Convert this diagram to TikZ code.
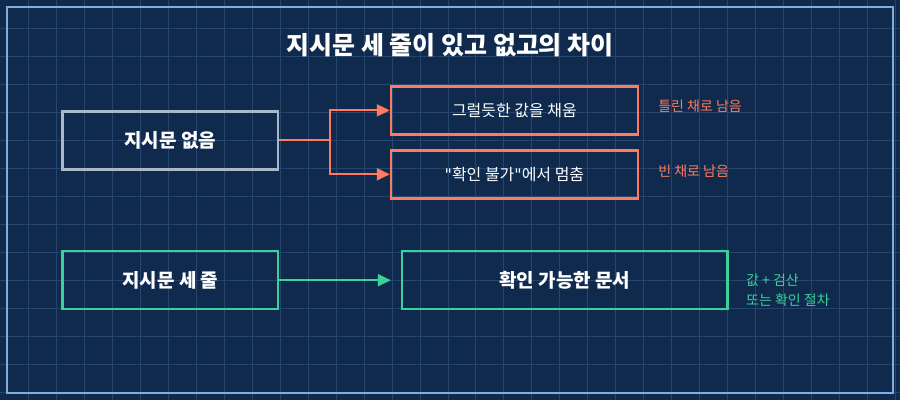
\documentclass[tikz,border=0pt]{standalone}
\usepackage{fontspec}
\setmainfont{Noto Sans CJK KR}
\newfontfamily\quotefont{DejaVu Sans}
\newcommand\dquote{{\quotefont\symbol{34}}}
\usetikzlibrary{arrows.meta}
\definecolor{bgblue}{HTML}{0F2A4D}
\definecolor{gridblue}{HTML}{25446E}
\definecolor{framblue}{HTML}{7FAEDC}
\definecolor{grayline}{HTML}{A9B8C8}
\definecolor{redline}{HTML}{FF7A5E}
\definecolor{greenline}{HTML}{3CD19A}
\tikzset{
  box/.style={draw, line width=2.5pt, minimum height=58pt, font=\fontsize{19}{22}\selectfont\bfseries, text=white},
  note/.style={anchor=west, font=\fontsize{14}{17}\selectfont, align=left},
  conn/.style={line width=2pt, -{Triangle[length=13pt,width=12pt]}}
}
\begin{document}
\begin{tikzpicture}[x=1pt,y=-1pt]
\fill[bgblue] (0,0) rectangle (900,400);
\foreach \i in {28,56,...,896} \draw[gridblue, line width=1pt] (\i,0) -- (\i,400);
\foreach \j in {28,56,...,396} \draw[gridblue, line width=1pt] (0,\j) -- (900,\j);
\draw[framblue, line width=2pt] (7,7) rectangle (893,393);
\node[text=white, font=\fontsize{25}{30}\selectfont\bfseries] (title) at (450,45) {지시문 세 줄이 있고 없고의 차이};

\node[box, draw=grayline, minimum width=216pt] (none) at (170,140) {지시문 없음};
\node[box, draw=redline, minimum width=247pt, minimum height=48pt, font=\fontsize{16}{19}\selectfont] (fill) at (514.5,110) {그럴듯한 값을 채움};
\node[box, draw=redline, minimum width=247pt, minimum height=48pt, font=\fontsize{16}{19}\selectfont] (stop) at (514.5,174) {\dquote 확인 불가\dquote 에서 멈춤};
\node[box, draw=greenline, minimum width=216pt] (three) at (170,280) {지시문 세 줄};
\node[box, draw=greenline, minimum width=326pt] (doc) at (565,280) {확인 가능한 문서};

\coordinate (split) at (330,140);
\draw[redline, line width=2pt] (none.east) -- (split);
\draw[conn, redline] (split) |- (fill.west);
\draw[conn, redline] (split) |- (stop.west);
\draw[conn, greenline, shorten >=10pt] (three.east) -- (doc.west);

\node[note, text=redline] (wrong) at (655,106) {틀린 채로 남음};
\node[note, text=redline] (empty) at (655,171) {빈 채로 남음};
\node[note, text=greenline, font=\fontsize{14}{20}\selectfont] (check) at (743,290) {값 + 검산\\또는 확인 절차};
\end{tikzpicture}
\end{document}
